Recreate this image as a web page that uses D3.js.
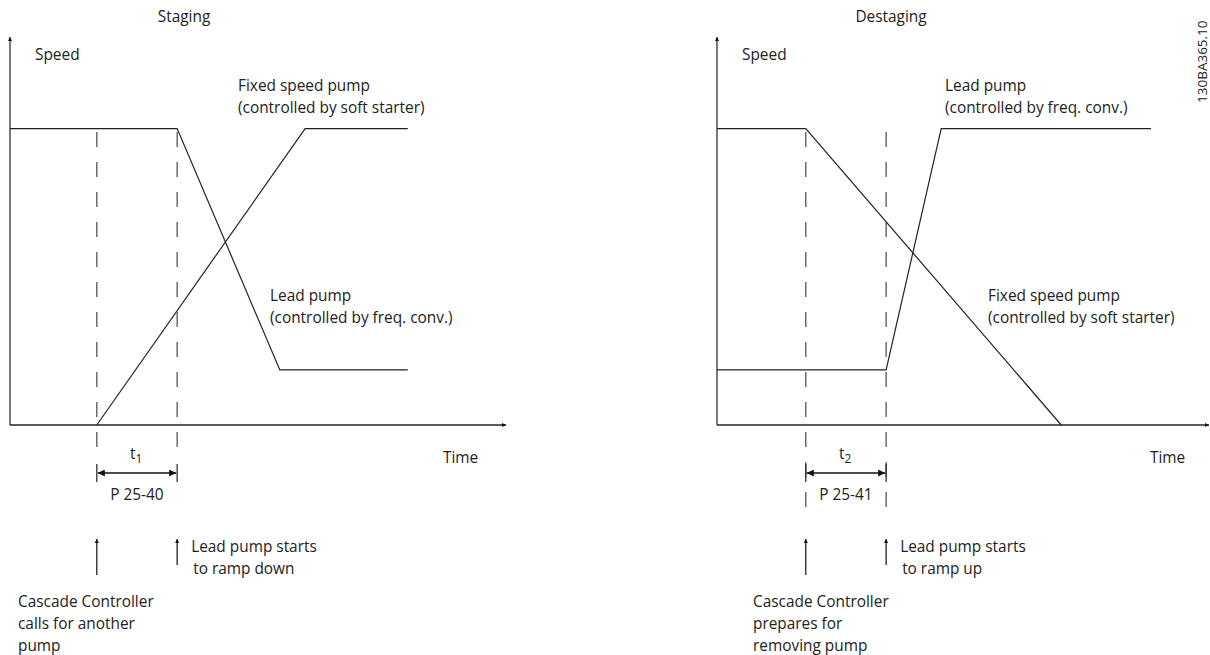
<!DOCTYPE html>
<html>
<head>
<meta charset="utf-8">
<script src="https://cdn.jsdelivr.net/npm/d3@7"></script>
<style>
  body { margin: 0; background: #fff; }
  svg text { font-family: 'Open Sans', 'DejaVu Sans', sans-serif; font-size: 15.4px; fill: #222; }
</style>
</head>
<body>
<div id="chart"></div>
<script>
// time in % of panel width, speed in % of axis height
var stagingLead = [ [ 0, 77 ], [ 33.7, 77 ], [ 54.4, 14.3 ], [ 80.2, 14.3 ] ];
var stagingFixed = [ [ 17.5, 0 ], [ 59.5, 77 ], [ 80.2, 77 ] ];
var stagingMarks = [ 17.5, 33.7 ];

var destagingLead = [ [ 0, 14.3 ], [ 34.1, 14.3 ], [ 45.2, 77 ], [ 87.5, 77 ] ];
var destagingFixed = [ [ 0, 77 ], [ 17.9, 77 ], [ 69.4, 0 ] ];
var destagingMarks = [ 17.9, 34.1 ];

var w = 1210;
var h = 655;

var svg = d3.select('#chart').append('svg').attr('width', w).attr('height', h);

var defs = svg.append('defs');
defs
	.append('marker')
	.attr('id', 'head')
	.attr('viewBox', '0 0 10 10')
	.attr('refX', 10)
	.attr('refY', 5)
	.attr('markerWidth', 9)
	.attr('markerHeight', 7)
	.attr('markerUnits', 'userSpaceOnUse')
	.attr('orient', 'auto-start-reverse')
	.append('path')
	.attr('d', 'M0,0 L10,5 L0,10 z')
	.attr('fill', '#111');
defs
	.append('marker')
	.attr('id', 'small')
	.attr('viewBox', '0 0 10 10')
	.attr('refX', 10)
	.attr('refY', 5)
	.attr('markerWidth', 7)
	.attr('markerHeight', 4)
	.attr('markerUnits', 'userSpaceOnUse')
	.attr('orient', 'auto-start-reverse')
	.append('path')
	.attr('d', 'M0,0 L10,5 L0,10 z')
	.attr('fill', '#111');

var yScale = d3.scaleLinear().domain([ 0, 100 ]).range([ 425, 40 ]);

function panel(opts) {
	var x0 = opts.x0;
	var xScale = d3.scaleLinear().domain([ 0, 100 ]).range([ x0, x0 + 496 ]);
	var g = svg.append('g');

	// axes
	g
		.append('line')
		.attr('x1', x0)
		.attr('y1', yScale(0))
		.attr('x2', x0)
		.attr('y2', 37)
		.attr('stroke', '#222')
		.attr('stroke-width', 1.2)
		.attr('marker-end', 'url(#small)');
	g
		.append('line')
		.attr('x1', x0)
		.attr('y1', yScale(0))
		.attr('x2', Math.min(xScale(100), 1209))
		.attr('y2', yScale(0))
		.attr('stroke', '#222')
		.attr('stroke-width', 1.5)
		.attr('marker-end', 'url(#small)');

	// dashed marks
	g
		.selectAll('line.mark')
		.data(opts.marks)
		.enter()
		.append('line')
		.attr('class', 'mark')
		.attr('x1', function(d) {
			return xScale(d);
		})
		.attr('x2', function(d) {
			return xScale(d);
		})
		.attr('y1', 132)
		.attr('y2', opts.dashEnd)
		.attr('stroke', '#555')
		.attr('stroke-width', 1.3)
		.attr('stroke-dasharray', '15,15');

	var line = d3
		.line()
		.x(function(d) {
			return xScale(d[0]);
		})
		.y(function(d) {
			return yScale(d[1]);
		});

	[ opts.lead, opts.fixed ].forEach(function(s) {
		g
			.append('path')
			.attr('d', line(s))
			.attr('fill', 'none')
			.attr('stroke', '#222')
			.attr('stroke-width', 1.2);
	});

	// dimension arrow
	var a = xScale(opts.marks[0]);
	var b = xScale(opts.marks[1]);
	g
		.append('line')
		.attr('x1', a + 1)
		.attr('x2', b - 1)
		.attr('y1', 473)
		.attr('y2', 473)
		.attr('stroke', '#111')
		.attr('stroke-width', 1.3)
		.attr('marker-start', 'url(#head)')
		.attr('marker-end', 'url(#head)');
	[ a, b ].forEach(function(x) {
		g
			.append('line')
			.attr('x1', x)
			.attr('x2', x)
			.attr('y1', 464)
			.attr('y2', 482)
			.attr('stroke', '#222')
			.attr('stroke-width', 1.2);
	});
	var tl = g
		.append('text')
		.attr('x', (a + b) / 2 - 7)
		.attr('y', 459);
	tl.append('tspan').text('t');
	tl.append('tspan').attr('dy', 4).style('font-size', '12px').text(opts.t);
	g
		.append('text')
		.attr('x', (a + b) / 2)
		.attr('y', 500)
		.attr('text-anchor', 'middle')
		.text(opts.param);

	// event arrows
	g
		.append('line')
		.attr('x1', a)
		.attr('x2', a)
		.attr('y1', 575)
		.attr('y2', 539)
		.attr('stroke', '#111')
		.attr('stroke-width', 1.2)
		.attr('marker-end', 'url(#small)');
	g
		.append('line')
		.attr('x1', b)
		.attr('x2', b)
		.attr('y1', 565)
		.attr('y2', 539)
		.attr('stroke', '#111')
		.attr('stroke-width', 1.2)
		.attr('marker-end', 'url(#small)');

	function block(lines, x, y, dy) {
		var t = g.append('text');
		lines.forEach(function(s, i) {
			t.append('tspan').attr('x', x + (s.dx || 0)).attr('y', y + i * dy).text(s.text || s);
		});
	}

	g
		.append('text')
		.attr('x', opts.titleX)
		.attr('y', 22)
		.attr('text-anchor', 'middle')
		.text(opts.title);
	g.append('text').attr('x', x0 + 25).attr('y', 60).text('Speed');
	g.append('text').attr('x', xScale(100) - 63).attr('y', 463).text('Time');

	block(opts.topLabel, opts.topX, 91, 22);
	block(opts.midLabel, opts.midX, 301, 22);
	block(opts.startLabel, b + 14, 552, 22);
	block(opts.ctrlLabel, opts.ctrlX, 607, 22);
}

panel({
	x0: 10,
	title: 'Staging',
	titleX: 184,
	lead: stagingLead,
	fixed: stagingFixed,
	marks: stagingMarks,
	dashEnd: 452,
	t: '1',
	param: 'P 25-40',
	topLabel: [ 'Fixed speed pump', '(controlled by soft starter)' ],
	topX: 238,
	midLabel: [ 'Lead pump', '(controlled by freq. conv.)' ],
	midX: 270,
	startLabel: [ 'Lead pump starts', { text: 'to ramp down', dx: 2 } ],
	ctrlLabel: [ 'Cascade Controller', 'calls for another', 'pump' ],
	ctrlX: 18
});

panel({
	x0: 717,
	title: 'Destaging',
	titleX: 891,
	lead: destagingLead,
	fixed: destagingFixed,
	marks: destagingMarks,
	dashEnd: 508,
	t: '2',
	param: 'P 25-41',
	topLabel: [ 'Lead pump', '(controlled by freq. conv.)' ],
	topX: 945,
	midLabel: [ 'Fixed speed pump', '(controlled by soft starter)' ],
	midX: 988,
	startLabel: [ 'Lead pump starts', { text: 'to ramp up', dx: 2 } ],
	ctrlLabel: [ 'Cascade Controller', 'prepares for', 'removing pump' ],
	ctrlX: 753
});

svg
	.append('text')
	.attr('transform', 'translate(1207,103) rotate(-90)')
	.style('font-size', '13.5px')
	.text('130BA365.10');
</script>
</body>
</html>
